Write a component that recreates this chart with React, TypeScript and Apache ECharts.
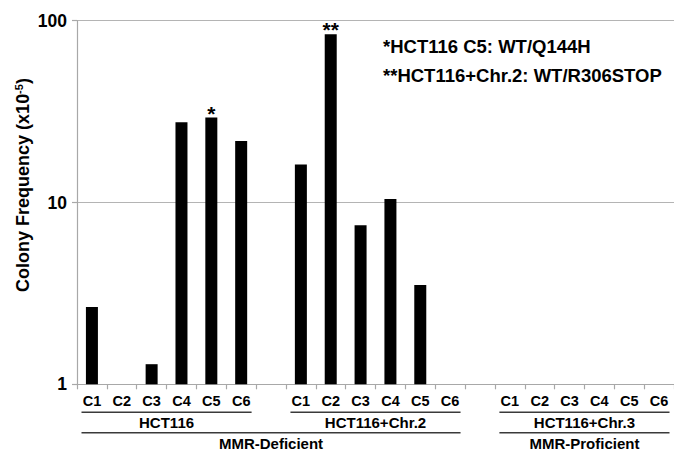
import React, { useEffect, useRef } from "react";
import * as echarts from "echarts";

// ---- data ----
const clones = ["C1", "C2", "C3", "C4", "C5", "C6"];
const groups = ["HCT116", "HCT116+Chr.2", "HCT116+Chr.3"];
const hct116Values = [2.66, null, 1.29, 27.6, 29.3, 21.8];
const chr2Values = [16.2, 84.2, 7.49, 10.45, 3.52, null];
const chr3Values = [null, null, null, null, null, null];
const superGroups = [
  { label: "MMR-Deficient", from: 0, to: 1 },
  { label: "MMR-Proficient", from: 2, to: 2 },
];
const starMarks = [
  { group: 0, clone: 4, text: "*" },
  { group: 1, clone: 1, text: "**" },
];
const footnotes = ["*HCT116 C5: WT/Q144H", "**HCT116+Chr.2: WT/R306STOP"];
const yTicks = [1, 10, 100];
const yTitle = "Colony Frequency (x10";
const ySup = "-5";

const FONT = "'Liberation Sans', Arial, Helvetica, sans-serif";

export default function App() {
  const ref = useRef<HTMLDivElement>(null);

  useEffect(() => {
    if (!ref.current) return;
    const chart = echarts.init(ref.current, null, { renderer: "svg" });

    const groupValues = [hct116Values, chr2Values, chr3Values];
    const categories: string[] = [];
    const data: any[] = [];
    groups.forEach((g, gi) => {
      clones.forEach((c, ci) => {
        categories.push(c);
        const v = groupValues[gi][ci];
        const mark = starMarks.find((m) => m.group === gi && m.clone === ci);
        if (v == null) data.push("-");
        else if (mark)
          data.push({
            value: v,
            label: {
              show: true,
              position: "top",
              distance: 0,
              offset: [0, 6],
              formatter: mark.text,
              fontSize: 21,
              fontWeight: "bold",
              fontFamily: FONT,
              color: "#000",
            },
          });
        else data.push(v);
      });
      if (gi < groups.length - 1) {
        categories.push("");
        data.push("-");
      }
    });

    const option: any = {
      animation: false,
      backgroundColor: "#ffffff",
      grid: { left: 77, top: 20.7, width: 602, height: 363.6, containLabel: false },
      xAxis: {
        type: "category",
        data: categories,
        axisLine: { show: true, lineStyle: { color: "#a8a8a8", width: 1.2 } },
        axisTick: { show: true, length: 5, interval: 0, lineStyle: { color: "#a8a8a8", width: 1.2 } },
        axisLabel: {
          interval: 0,
          margin: 9,
          fontSize: 14.5,
          fontWeight: "bold",
          fontFamily: FONT,
          color: "#000",
        },
        splitLine: { show: false },
      },
      yAxis: {
        type: "log",
        logBase: 10,
        min: yTicks[0],
        max: yTicks[yTicks.length - 1],
        axisLine: { show: true, lineStyle: { color: "#a8a8a8", width: 1.2 } },
        axisTick: { show: true, length: 5, lineStyle: { color: "#a8a8a8", width: 1.2 } },
        minorTick: { show: false },
        splitLine: { show: true, lineStyle: { color: "#b4b4b4", width: 1.2 } },
        axisLabel: {
          margin: 10,
          fontSize: 17.5,
          fontWeight: "bold",
          fontFamily: FONT,
          color: "#000",
        },
      },
      series: [
        {
          type: "bar",
          data,
          barWidth: 12,
          itemStyle: { color: "#000" },
        },
      ],
    };
    chart.setOption(option);

    const c0 = chart.convertToPixel({ xAxisIndex: 0 }, 0) as number;
    const c1 = chart.convertToPixel({ xAxisIndex: 0 }, 1) as number;
    const w = c1 - c0;
    const yBase = chart.convertToPixel({ yAxisIndex: 0 }, 1) as number;
    const inset = 4.5;
    const lineStyle = { stroke: "#3a3a3a", lineWidth: 1.5 };
    const txt = (x: number, y: number, text: string) => ({
      type: "text",
      x,
      y,
      style: {
        text,
        align: "center",
        verticalAlign: "middle",
        fontSize: 15,
        fontWeight: "bold",
        fontFamily: FONT,
        fill: "#000",
      },
    });
    const groupEdges = (gi: number) => {
      const start = gi * (clones.length + 1);
      const l = (chart.convertToPixel({ xAxisIndex: 0 }, start) as number) - w / 2 + inset;
      const r = (chart.convertToPixel({ xAxisIndex: 0 }, start + clones.length - 1) as number) + w / 2 - inset;
      return [l, r];
    };

    const elements: any[] = [];
    groups.forEach((g, gi) => {
      const [l, r] = groupEdges(gi);
      elements.push({ type: "line", shape: { x1: l, y1: yBase + 28, x2: r, y2: yBase + 28 }, style: lineStyle });
      elements.push(txt((l + r) / 2, yBase + 38.5, g));
    });
    superGroups.forEach((sg) => {
      const l = groupEdges(sg.from)[0];
      const r = groupEdges(sg.to)[1];
      elements.push({ type: "line", shape: { x1: l, y1: yBase + 48.5, x2: r, y2: yBase + 48.5 }, style: lineStyle });
      elements.push(txt((l + r) / 2, yBase + 59, sg.label));
    });
    footnotes.forEach((t, i) => {
      elements.push({
        type: "text",
        x: 383,
        y: 46.7 + i * 29,
        style: {
          text: t,
          align: "left",
          verticalAlign: "middle",
          fontSize: 18.5,
          fontWeight: "bold",
          fontFamily: FONT,
          fill: "#000",
        },
      });
    });
    elements.push({
      type: "text",
      x: 23,
      y: 185,
      rotation: Math.PI / 2,
      style: {
        text: `{a|${yTitle}}{s|${ySup}}{a|)}`,
        align: "center",
        verticalAlign: "middle",
        rich: {
          a: { fontSize: 18, fontWeight: "bold", fontFamily: FONT, fill: "#000", color: "#000" },
          s: { fontSize: 11, fontWeight: "bold", fontFamily: FONT, fill: "#000", color: "#000", padding: [0, 0, 9, 0] },
        },
      },
    });
    chart.setOption({ graphic: elements });

    return () => chart.dispose();
  }, []);

  return (
    <div
      ref={ref}
      style={{ position: "fixed", left: 0, top: 0, width: 674, height: 451, background: "#fff" }}
    />
  );
}
